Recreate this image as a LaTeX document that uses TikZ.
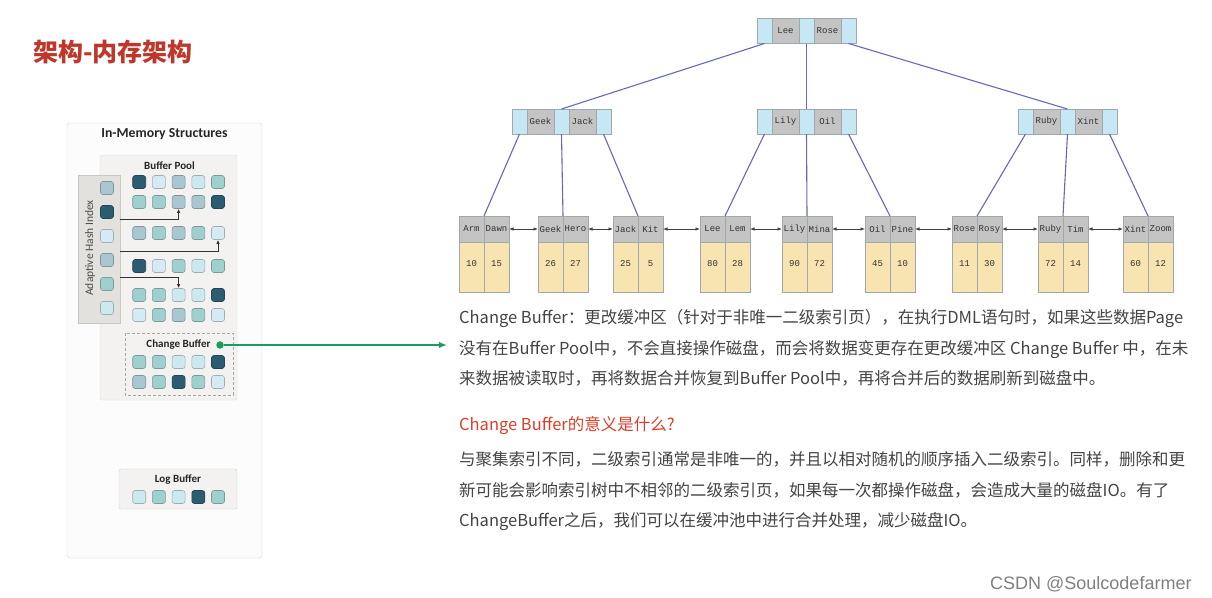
\documentclass[tikz,border=0pt]{standalone}
\usepackage{fontspec}
\setmonofont{Liberation Mono}
\newfontfamily\cjk{Noto Sans CJK SC}
\newfontfamily\panelfont{Carlito}
\newfontfamily\wmfont{Liberation Sans}
\usetikzlibrary{arrows.meta}

\definecolor{titlered}{RGB}{190,55,42}
\definecolor{headred}{RGB}{222,62,40}
\definecolor{bodygray}{RGB}{68,68,68}
\definecolor{sqdark}{RGB}{44,92,112}
\definecolor{sqlight}{RGB}{214,234,244}
\definecolor{sqmid}{RGB}{168,199,208}
\definecolor{sqteal}{RGB}{160,208,205}
\definecolor{sqpale}{RGB}{204,234,238}
\definecolor{ptrblue}{RGB}{198,232,244}
\definecolor{keygray}{RGB}{196,196,196}
\definecolor{valyellow}{RGB}{247,228,176}
\definecolor{cellline}{RGB}{160,168,172}
\definecolor{treeline}{RGB}{104,104,186}
\definecolor{cbgreen}{RGB}{28,156,92}
\definecolor{panelbg}{RGB}{252,252,252}
\definecolor{panelline}{RGB}{217,217,217}
\definecolor{bpbg}{RGB}{243,242,240}
\definecolor{bpline}{RGB}{222,221,218}
\definecolor{ahibg}{RGB}{226,225,222}

\tikzset{
  sq/.style={rounded corners=2.5pt, minimum size=13pt, inner sep=0pt, fill=#1, draw=#1!75!black, line width=0.6pt},
  ptr/.style={draw=cellline, fill=ptrblue, minimum width=15pt, minimum height=25pt, inner sep=0pt, outer sep=0pt, line width=0.6pt},
  keycell/.style={ptr, fill=keygray, minimum width=27pt, font=\ttfamily\fontsize{9}{9}\selectfont, text=black!80},
  leafkey/.style={keycell, minimum width=25pt, minimum height=26pt},
  leafval/.style={leafkey, fill=valyellow, minimum height=50pt, text height=6pt, text depth=8pt},
  treeedge/.style={draw=treeline, line width=1.1pt},
  leaflink/.style={draw=black!75, line width=0.7pt, {Latex[length=4.5pt,width=3.5pt]}-{Latex[length=4.5pt,width=3.5pt]}},
  ahiarrow/.style={draw=black!80, line width=0.8pt, -{Latex[length=4pt,width=3.5pt]}},
  boxtitle/.style={inner sep=0pt, font=\panelfont\bfseries\fontsize{11}{11}\selectfont, text=black!85},
  body/.style={anchor=base west, inner sep=0pt, font=\cjk\fontsize{16.5}{20}\selectfont, text=bodygray}
}

\begin{document}
\begin{tikzpicture}[x=1pt,y=-1pt]

    \fill[white] (0,0) rectangle (1212,597);
    \useasboundingbox (0,0) rectangle (1212,597);

    % Title
    \node[anchor=west, inner sep=0pt, font=\cjk\bfseries\fontsize{25}{25}\selectfont, text=titlered] (title) at (33,52) {架构-内存架构};

    % In-memory panel
    \draw[draw=panelline, fill=panelbg, rounded corners=3pt] (67,123) rectangle (262,558);
    \node[inner sep=0pt, font=\panelfont\bfseries\fontsize{13.8}{14}\selectfont, text=black!85] (imtitle) at (164.5,134.5) {In-Memory Structures};

    \draw[draw=bpline, fill=bpbg, rounded corners=2pt] (100,155) rectangle (237,400);
    \node[boxtitle] (bptitle) at (169.5,165.5) {Buffer Pool};

    \draw[draw=bpline!90!black, fill=ahibg] (78,175) rectangle (120,323);
    \node[rotate=90, inner sep=0pt, font=\panelfont\fontsize{11.5}{11.5}\selectfont, text=black!70] (ahititle) at (90,248) {Adaptive Hash Index};

    % Buffer pool pages
    \foreach \nm/\y/\ca/\cb/\cc/\cd/\ce in {
        bp1/182/sqdark/sqlight/sqmid/sqpale/sqteal,
        bp2/202/sqteal/sqteal/sqmid/sqmid/sqdark,
        bp3/233/sqmid/sqteal/sqmid/sqteal/sqlight,
        bp4/266/sqdark/sqlight/sqteal/sqpale/sqteal,
        bp5/295/sqteal/sqteal/sqpale/sqpale/sqdark,
        bp6/315/sqlight/sqteal/sqmid/sqteal/sqlight,
        cb1/362/sqteal/sqteal/sqpale/sqpale/sqdark,
        cb2/382/sqmid/sqteal/sqdark/sqteal/sqlight}
        \foreach \c [count=\i] in {\ca,\cb,\cc,\cd,\ce}
            \node[sq=\c] (\nm-\i) at ({119.5+19.7*\i},\y) {};

    % Hash index entries
    \foreach \c [count=\i] in {sqmid,sqdark,sqlight,sqmid,sqteal,sqpale}
        \node[sq=\c] (ahi-\i) at (107,{164+24*\i}) {};

    \coordinate (ahs1) at (120,219);
    \coordinate (ahs2) at (120,251);
    \coordinate (ahs3) at (120,277);
    \draw[ahiarrow] (ahs1) -| (bp2-3.south);
    \draw[ahiarrow] (ahs2) -| (bp3-5.south);
    \draw[ahiarrow] (ahs3) -| (bp5-3.north);

    % Change buffer
    \draw[draw=black!35, dash pattern=on 3pt off 2pt, line width=0.8pt] (125,333) rectangle (233,395);
    \node[boxtitle] (cbtitle) at (178.5,345) {Change Buffer};

    % Log buffer
    \draw[draw=black!18, fill=bpbg, rounded corners=2pt] (119,469) rectangle (237,509);
    \node[boxtitle] (lbtitle) at (178,480) {Log Buffer};
    \foreach \c [count=\i] in {sqpale,sqteal,sqpale,sqdark,sqteal}
        \node[sq=\c] (lb-\i) at ({119.5+19.7*\i},497) {};

    % Pointer to the text
    \node[circle, fill=cbgreen, inner sep=0pt, minimum size=7.5pt] (cbdot) at (220,345) {};
    \coordinate (cbtip) at (447,345);
    \draw[cbgreen, line width=1.6pt, -{Latex[length=8pt,width=6.5pt]}] (cbdot) -- (cbtip);

    % B+ tree inner nodes
    \foreach \nm/\L/\Y/\ka/\kb in {r/757/31/Lee/Rose, a/512/121.5/Geek/Jack, b/757/121.5/Lily/Oil, c/1018/121.5/Ruby/Xint}{
        \node[ptr] (\nm-p0) at (\L+7.5,\Y) {};
        \node[keycell] (\nm-k1) at (\L+28.5,\Y) {\ka};
        \node[ptr] (\nm-p1) at (\L+49.5,\Y) {};
        \node[keycell] (\nm-k2) at (\L+70.5,\Y) {\kb};
        \node[ptr] (\nm-p2) at (\L+91.5,\Y) {};
    }

    % Leaves
    \foreach \nm/\L/\ka/\kb/\va/\vb in {l1/459/Arm/Dawn/10/15, l2/538/Geek/Hero/26/27, l3/613/Jack/Kit/25/5,
        l4/700/Lee/Lem/80/28, l5/782/Lily/Mina/90/72, l6/865/Oil/Pine/45/10,
        l7/952/Rose/Rosy/11/30, l8/1038/Ruby/Tim/72/14, l9/1123/Xint/Zoom/60/12}{
        \node[leafkey] (\nm-k1) at (\L+12.5,229) {\ka};
        \node[leafkey] (\nm-k2) at (\L+37.5,229) {\kb};
        \node[leafval] (\nm-v1) at (\L+12.5,267) {\va};
        \node[leafval] (\nm-v2) at (\L+37.5,267) {\vb};
    }

    % Tree edges
    \foreach \u/\v in {r-p0/a-p1, r-p1/b-p1, r-p2/c-p1}
        \draw[treeedge] (\u.south) -- (\v.north);
    \foreach \u/\v in {a-p0/l1, a-p1/l2, a-p2/l3, b-p0/l4, b-p1/l5, b-p2/l6, c-p0/l7, c-p1/l8, c-p2/l9}
        \draw[treeedge] (\u.south) -- (\v-k1.north east);

    % Leaf links
    \foreach \u/\v in {l1/l2, l2/l3, l3/l4, l4/l5, l5/l6, l6/l7, l7/l8, l8/l9}
        \draw[leaflink] (\u-k2.east) -- (\v-k1.west);

    % Text
    \node[body] (p1a) at (459,323) {Change Buffer：更改缓冲区（针对于非唯一二级索引页），在执行DML语句时，如果这些数据Page};
    \node[body] (p1b) at (459,354) {没有在Buffer Pool中，不会直接操作磁盘，而会将数据变更存在更改缓冲区 Change Buffer 中，在未};
    \node[body] (p1c) at (459,384) {来数据被读取时，再将数据合并恢复到Buffer Pool中，再将合并后的数据刷新到磁盘中。};
    \node[body, text=headred] (h2) at (459,430) {Change Buffer的意义是什么?};
    \node[body] (p2a) at (459,465) {与聚集索引不同，二级索引通常是非唯一的，并且以相对随机的顺序插入二级索引。同样，删除和更};
    \node[body] (p2b) at (459,496) {新可能会影响索引树中不相邻的二级索引页，如果每一次都操作磁盘，会造成大量的磁盘IO。有了};
    \node[body] (p2c) at (459,526) {ChangeBuffer之后，我们可以在缓冲池中进行合并处理，减少磁盘IO。};

    % Watermark
    \node[anchor=base west, inner sep=0pt, font=\wmfont\fontsize{18}{18}\selectfont, text=black!50] (wm) at (990,589) {CSDN @Soulcodefarmer};

\end{tikzpicture}
\end{document}
